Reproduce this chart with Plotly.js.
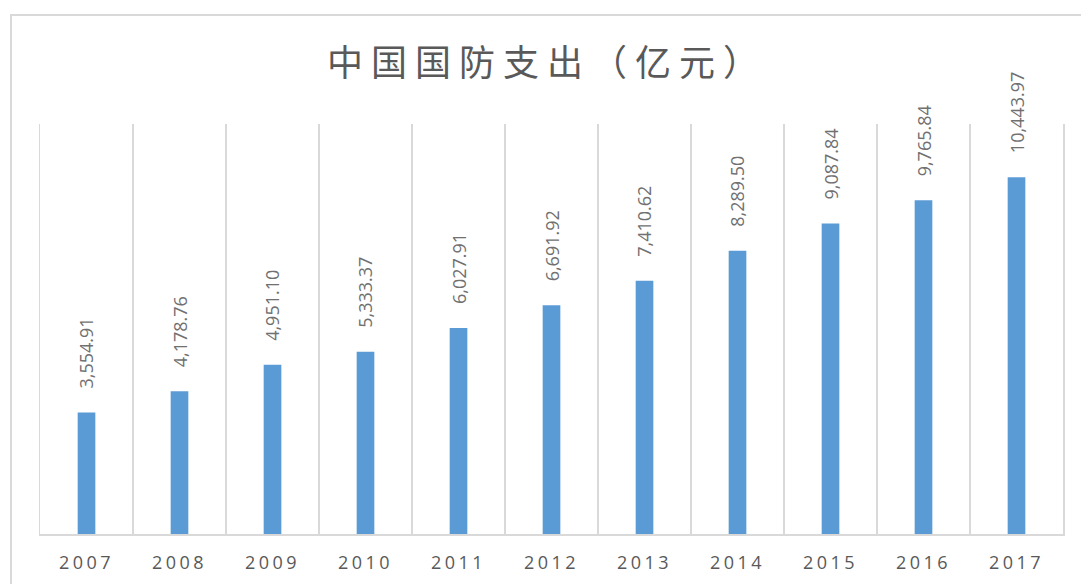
<!DOCTYPE html>
<html>
<head>
<meta charset="utf-8">
<script src="https://cdn.plot.ly/plotly-3.0.1.min.js"></script>
<style>
  html, body { margin: 0; padding: 0; background: #ffffff; }
  #frame { position: absolute; left: 10px; top: 14px; width: 1200px; height: 700px;
           border-left: 2px solid #d9d9d9; border-top: 2px solid #d9d9d9; }
  #chart { position: absolute; left: 0; top: 0; width: 1081px; height: 584px; }
  #chart .gtitle { letter-spacing: 8px; }
  #chart .xtick text { letter-spacing: 3.5px; }
</style>
</head>
<body>
<div id="frame"></div>
<div id="chart"></div>
<script>
const years = ['2007','2008','2009','2010','2011','2012','2013','2014','2015','2016','2017'];
const spending = [3554.91, 4178.76, 4951.10, 5333.37, 6027.91, 6691.92, 7410.62, 8289.50, 9087.84, 9765.84, 10443.97];
const chartTitle = '中国国防支出（亿元）';

const fmt = v => v.toLocaleString('en-US', {minimumFractionDigits: 2, maximumFractionDigits: 2});

const trace = {
  type: 'bar',
  x: years,
  y: spending,
  width: 0.19,
  marker: { color: '#5b9bd5' },
  hoverinfo: 'x+y'
};

// category index positions for annotations (numeric-looking category names would be read as indices)
const annotations = years.map((yr, i) => ({
  x: i, y: spending[i], xref: 'x', yref: 'y',
  text: fmt(spending[i]),
  textangle: -90,
  showarrow: false,
  xanchor: 'center', yanchor: 'bottom',
  yshift: 22,
  font: { family: 'Open Sans, sans-serif', size: 18, color: '#707070' }
}));

const layout = {
  width: 1081, height: 584,
  margin: { l: 40, r: 18, t: 124, b: 50 },
  paper_bgcolor: 'rgba(0,0,0,0)',
  plot_bgcolor: 'rgba(0,0,0,0)',
  showlegend: false,
  title: {
    text: chartTitle,
    font: { family: 'Noto Sans CJK SC, sans-serif', size: 36, color: '#595959' },
    xref: 'container', yref: 'container',
    x: 0.506, xanchor: 'center',
    y: 0.892, yanchor: 'middle'
  },
  xaxis: {
    type: 'category',
    range: [-0.5, years.length - 0.5],
    tickson: 'boundaries',
    showgrid: true, gridcolor: '#d9d9d9', gridwidth: 1.5,
    showline: true, linecolor: '#d9d9d9', linewidth: 2,
    ticks: '',
    ticklabelstandoff: 11,
    tickfont: { family: 'Open Sans, sans-serif', size: 18, color: '#595959' },
    fixedrange: true
  },
  yaxis: {
    range: [0, 12000],
    showgrid: false, zeroline: false,
    showticklabels: false, ticks: '',
    showline: true, mirror: true, linecolor: '#d9d9d9', linewidth: 1.5,
    fixedrange: true
  },
  annotations: annotations
};

Plotly.newPlot('chart', [trace], layout, { displayModeBar: false, staticPlot: true });
</script>
</body>
</html>
